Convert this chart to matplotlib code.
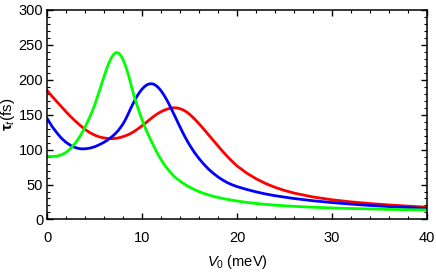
import matplotlib.pyplot as plt
from matplotlib.ticker import MultipleLocator

# Data (V0 in meV, tau_t in fs)
V0 = [0, 0.5, 1, 1.5, 2, 2.5, 3, 3.5, 4, 4.5,
      5, 5.25, 5.5, 5.75, 6, 6.25, 6.5, 6.75, 7, 7.25, 7.5, 7.75, 8, 8.25, 8.5, 8.75,
      9, 9.25, 9.5, 9.75, 10, 10.25, 10.5, 10.75, 11, 11.25, 11.5, 11.75, 12, 12.25,
      12.5, 12.75, 13, 13.25, 13.5, 13.75, 14, 14.25, 14.5, 14.75, 15,
      15.5, 16, 16.5, 17, 17.5, 18, 18.5, 19, 19.5, 20,
      21, 22, 23, 24, 25, 26, 28, 30, 32, 34, 36, 38, 40]

tau_red = [184, 176, 168.5, 161, 153.5, 146.5, 140, 134, 128.5, 124,
           120.5, 119.2, 118, 117.2, 116.5, 116, 115.6, 115.5, 115.6, 116, 116.6, 117.5,
           118.5, 119.7, 121, 122.7, 124.5, 126.7, 129, 131.5, 134, 136.7, 139.5, 142.3,
           145, 147.6, 150, 152.2, 154.1, 155.7, 157.1, 158.2, 159, 159.5, 159.6, 159.2,
           158.3, 157, 155.2, 153, 150.4,
           144, 136.8, 129, 121, 113, 105, 97.2, 89.8, 82.9, 76.6,
           66.5, 58.3, 51.5, 46, 41.5, 37.8, 32.2, 28.2, 25.2, 22.8, 20.8, 19.1, 17.6]

tau_blue = [144, 133, 124, 116, 110, 105.5, 102.5, 101, 101, 102,
            104, 105.4, 107, 108.7, 110.5, 112.6, 115, 117.6, 120.5, 123.8, 127.5, 132,
            137, 143, 150, 157.5, 164.5, 171, 177, 182.2, 186.5, 189.9, 192.4, 193.8, 194,
            193.2, 191, 187.8, 183.8, 178.8, 173.2, 167, 160.3, 153.3, 146.2, 139, 132,
            125.1, 118.5, 112.3, 106.5,
            96, 87, 79, 72, 66, 60.8, 56.3, 52.5, 49.5, 47,
            43, 39.5, 36.5, 34, 32, 30, 26.8, 24.2, 22, 20.1, 18.5, 17, 15.7]

tau_green = [90.5, 90, 90.5, 92.5, 96, 102, 110, 120, 132.5, 147,
             163.5, 174, 184, 194.5, 205, 215, 224, 231, 236, 238.5, 238, 234.5, 228,
             219.5, 209, 196.5, 183.5, 172, 161.5, 151.5, 142, 133.5, 125.5, 118, 111,
             104, 97.5, 91, 85.5, 80, 75.3, 71, 67, 63.3, 60, 57.3, 54.8, 52.4, 50.2,
             48.1, 46.2,
             42.8, 39.8, 37.3, 35.1, 33.2, 31.5, 30, 28.7, 27.5, 26.4,
             24.5, 22.9, 21.6, 20.5, 19.6, 18.8, 17.5, 16.5, 15.7, 15.1, 14.5, 14, 13.6]

plt.rcParams['font.family'] = ['Liberation Sans', 'DejaVu Sans']
plt.rcParams['mathtext.fontset'] = 'custom'
plt.rcParams['mathtext.rm'] = 'Liberation Sans'
plt.rcParams['mathtext.it'] = 'Liberation Sans:italic'
plt.rcParams['mathtext.bf'] = 'Liberation Sans:bold'

fig = plt.figure(figsize=(4.36, 2.73), dpi=100)
ax = fig.add_axes([0.1085, 0.196, 0.8702, 0.769])

ax.plot(V0, tau_red, color='#ff0000', lw=2)
ax.plot(V0, tau_blue, color='#0000ff', lw=2)
ax.plot(V0, tau_green, color='#00ff00', lw=2)

ax.set_xlim(0, 40)
ax.set_ylim(0, 300)
ax.xaxis.set_major_locator(MultipleLocator(10))
ax.xaxis.set_minor_locator(MultipleLocator(2))
ax.yaxis.set_major_locator(MultipleLocator(50))
ax.yaxis.set_minor_locator(MultipleLocator(10))

ax.tick_params(which='both', direction='in', top=True, right=True,
               labelsize=10.5, pad=3)
ax.tick_params(axis='x', which='both', pad=8)
ax.tick_params(which='major', length=4, width=1)
ax.tick_params(which='minor', length=2.5, width=0.8)

# faint ticks on the top and right edges
for axis in [ax.xaxis, ax.yaxis]:
    for t in axis.get_major_ticks() + axis.get_minor_ticks():
        t.tick2line.set_color('#bbbbbb')

for side in ['left', 'bottom', 'top', 'right']:
    ax.spines[side].set_linewidth(1.1)

ax.set_xlabel(r'$V_0$ (meV)', fontsize=10.5, labelpad=6)
ax.set_ylabel(r'$\mathbf{\tau}_t$(fs)', fontsize=11)
ax.yaxis.set_label_coords(-0.08, 0.5)

plt.savefig('out.png', dpi=100)
